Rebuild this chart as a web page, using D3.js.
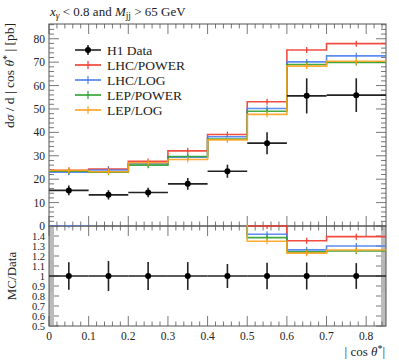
<!DOCTYPE html>
<html><head><meta charset="utf-8">
<script src="https://cdn.jsdelivr.net/npm/d3@7"></script>
<style>
body{margin:0;background:#fff;}
svg text{font-family:"Liberation Serif","DejaVu Serif",serif;fill:#222;}
</style></head>
<body><svg id="c" width="399" height="360"></svg>
<script>
const binEdges = [0, 0.1, 0.2, 0.3, 0.4, 0.5, 0.6, 0.7, 0.85];
const dataVals = [15.2, 13.3, 14.3, 18.0, 23.4, 35.4, 55.6, 55.9];
const dataErr  = [2.1, 2.0, 2.0, 2.5, 2.8, 4.7, 7.5, 7.2];
const lhcPower = [23.8, 24.3, 27.6, 32.1, 39.1, 53.1, 75.2, 77.9];
const lhcLog   = [23.0, 23.9, 26.6, 29.4, 38.1, 50.2, 70.1, 72.7];
const lepPower = [23.4, 23.0, 26.0, 29.7, 37.1, 49.0, 69.0, 69.9];
const lepLog   = [23.7, 23.2, 27.0, 28.4, 36.8, 47.7, 68.3, 70.4];
const seriesNames = ["LHC/POWER", "LHC/LOG", "LEP/POWER", "LEP/LOG"];
const seriesColors = ["#ef3b2c", "#4a7ef2", "#2ca02c", "#ffa21f"];
const xTicks = [0, 0.1, 0.2, 0.3, 0.4, 0.5, 0.6, 0.7, 0.8];
const yTicks = [0, 10, 20, 30, 40, 50, 60, 70, 80];
const rTicks = [0.5, 0.6, 0.7, 0.8, 0.9, 1.0, 1.1, 1.2, 1.3, 1.4];

const series = [lhcPower, lhcLog, lepPower, lepLog];
const svg = d3.select("#c");
const L = 49, R = 386, T = 24, M = 226, B = 326;
const x = d3.scaleLinear().domain([0, 0.85]).range([L, R]);
const y = d3.scaleLinear().domain([0, 86.3]).range([M, T]);
const yr = d3.scaleLinear().domain([0.5, 1.5]).range([B, M]);
const axisCol = "#555";

svg.append("defs").call(d => {
  d.append("clipPath").attr("id", "cm").append("rect").attr("x", L).attr("y", T).attr("width", R - L).attr("height", M - T);
  d.append("clipPath").attr("id", "cr").append("rect").attr("x", L).attr("y", M - 1).attr("width", R - L).attr("height", B - M + 1);
});

function range(a, b, s) { const out = []; for (let v = a; v <= b + 1e-9; v += s) out.push(+v.toFixed(4)); return out; }
const isMajor01 = v => Math.abs(v * 10 - Math.round(v * 10)) < 1e-6;
const xMinor = range(0, 0.85, 0.02).filter(v => !isMajor01(v));
const yMinor = range(0, 86, 2).filter(v => v % 10 !== 0);
const rMinor = range(0.5, 1.5, 0.02).filter(v => !isMajor01(v));
const rFine = range(0.85, 1.15, 0.01).filter(v => !isMajor01(v) && Math.abs(v * 50 - Math.round(v * 50)) > 1e-6);

const g = svg.append("g");
function hTicks(vals, len, yPos, dir) {
  g.selectAll(null).data(vals).enter().append("line")
    .attr("x1", d => x(d)).attr("x2", d => x(d))
    .attr("y1", yPos).attr("y2", yPos + dir * len)
    .attr("stroke", axisCol).attr("stroke-width", 0.8);
}
function vTicks(scale, vals, len, col, w) {
  col = col || axisCol; w = w || 0.8;
  g.selectAll(null).data(vals).enter().append("line")
    .attr("x1", L).attr("x2", L + len).attr("y1", d => scale(d)).attr("y2", d => scale(d))
    .attr("stroke", col).attr("stroke-width", w);
  g.selectAll(null).data(vals).enter().append("line")
    .attr("x1", R).attr("x2", R - len).attr("y1", d => scale(d)).attr("y2", d => scale(d))
    .attr("stroke", col).attr("stroke-width", w);
}
[[T, 1], [M, -1], [M, 1], [B, -1]].forEach(([yy, dir]) => {
  hTicks(xTicks, 10, yy, dir);
  hTicks(xMinor, 4.5, yy, dir);
});
vTicks(y, yTicks, 10);
vTicks(y, yMinor, 5);
vTicks(yr, rTicks, 10);
vTicks(yr, rMinor, 5);
vTicks(yr, rFine, 5, "#aaa", 0.6);

g.append("rect").attr("x", L).attr("y", T).attr("width", R - L).attr("height", M - T).attr("fill", "none").attr("stroke", axisCol).attr("stroke-width", 1);
g.append("rect").attr("x", L).attr("y", M).attr("width", R - L).attr("height", B - M).attr("fill", "none").attr("stroke", axisCol).attr("stroke-width", 1);

g.selectAll(null).data(yTicks).enter().append("text")
  .attr("x", L - 4).attr("y", d => y(d) + 4).attr("text-anchor", "end").attr("font-size", 11.5).text(d => d);
g.selectAll(null).data(rTicks).enter().append("text")
  .attr("x", L - 4).attr("y", d => yr(d) + 3.5).attr("text-anchor", "end").attr("font-size", 10.5)
  .text(d => d === 1 ? "1" : d3.format(".1f")(d));
g.selectAll(null).data(xTicks).enter().append("text")
  .attr("x", d => x(d)).attr("y", 340).attr("text-anchor", "middle").attr("font-size", 11.5)
  .text(d => d === 0 ? "0" : d3.format(".1f")(d));

function stepPath(vals, sc) {
  const pts = [];
  vals.forEach((v, i) => { pts.push([x(binEdges[i]), sc(v)]); pts.push([x(binEdges[i + 1]), sc(v)]); });
  return d3.line()(pts);
}
const mid = i => (binEdges[i] + binEdges[i + 1]) / 2;

const mainG = svg.append("g").attr("clip-path", "url(#cm)");
const ratG = svg.append("g").attr("clip-path", "url(#cr)");

series.forEach((s, k) => {
  mainG.append("path").attr("d", stepPath(s, y)).attr("fill", "none")
    .attr("stroke", seriesColors[k]).attr("stroke-width", 1.6).attr("stroke-opacity", 0.9);
  mainG.selectAll(null).data(s).enter().append("line")
    .attr("x1", (d, i) => x(mid(i))).attr("x2", (d, i) => x(mid(i)))
    .attr("y1", d => y(d) - 3).attr("y2", d => y(d) + 3)
    .attr("stroke", seriesColors[k]).attr("stroke-width", 1.2);
  const ratio = s.map((v, i) => v / dataVals[i]);
  ratG.append("path").attr("d", stepPath(ratio, yr)).attr("fill", "none")
    .attr("stroke", seriesColors[k]).attr("stroke-width", 1.6).attr("stroke-opacity", 0.9);
  ratG.selectAll(null).data(ratio).enter().append("line")
    .attr("x1", (d, i) => x(mid(i))).attr("x2", (d, i) => x(mid(i)))
    .attr("y1", d => yr(d) - 3).attr("y2", d => yr(d) + 3)
    .attr("stroke", seriesColors[k]).attr("stroke-width", 1.2);
});

function drawData(gg, vals, errs, sc) {
  vals.forEach((v, i) => {
    gg.append("line").attr("x1", x(binEdges[i])).attr("x2", x(binEdges[i + 1]))
      .attr("y1", sc(v)).attr("y2", sc(v)).attr("stroke", "#222").attr("stroke-width", 1.6);
    gg.append("line").attr("x1", x(mid(i))).attr("x2", x(mid(i)))
      .attr("y1", sc(v - errs[i])).attr("y2", sc(v + errs[i])).attr("stroke", "#222").attr("stroke-width", 1.6);
    gg.append("circle").attr("cx", x(mid(i))).attr("cy", sc(v)).attr("r", 3).attr("fill", "#000");
  });
}
drawData(mainG, dataVals, dataErr, y);
drawData(ratG, dataVals.map(() => 1), dataErr.map((e, i) => e / dataVals[i]), yr);

const legNames = ["H1 Data"].concat(seriesNames);
const legY = [50, 65, 80, 95, 110];
legNames.forEach((n, k) => {
  const yy = legY[k];
  if (k === 0) {
    g.append("line").attr("x1", 75).attr("x2", 101).attr("y1", yy).attr("y2", yy).attr("stroke", "#222").attr("stroke-width", 1.6);
    g.append("line").attr("x1", 88).attr("x2", 88).attr("y1", yy - 5).attr("y2", yy + 5).attr("stroke", "#222").attr("stroke-width", 1.6);
    g.append("circle").attr("cx", 88).attr("cy", yy).attr("r", 3).attr("fill", "#000");
  } else {
    const c = seriesColors[k - 1];
    g.append("line").attr("x1", 75).attr("x2", 101).attr("y1", yy).attr("y2", yy).attr("stroke", c).attr("stroke-width", 1.6);
    g.append("line").attr("x1", 88).attr("x2", 88).attr("y1", yy - 4).attr("y2", yy + 4).attr("stroke", c).attr("stroke-width", 1.2);
  }
  g.append("text").attr("x", 107).attr("y", yy + 4.5).attr("font-size", 13.5).text(n);
});

const tt = svg.append("text").attr("x", 50).attr("y", 16).attr("font-size", 13);
tt.append("tspan").attr("font-style", "italic").text("x");
tt.append("tspan").attr("font-style", "italic").attr("font-size", 9.5).attr("dy", 3).text("γ");
tt.append("tspan").attr("dy", -3).text(" < 0.8 and ");
tt.append("tspan").attr("font-style", "italic").text("M");
tt.append("tspan").attr("font-size", 9.5).attr("dy", 3).text("jj");
tt.append("tspan").attr("dy", -3).text(" > 65 GeV");

const yl = svg.append("text").attr("transform", "translate(14,23) rotate(-90)").attr("text-anchor", "end").attr("font-size", 13.5);
yl.append("tspan").text("d");
yl.append("tspan").attr("font-style", "italic").text("σ");
yl.append("tspan").text(" / d | cos ");
yl.append("tspan").attr("font-style", "italic").text("θ");
yl.append("tspan").attr("font-size", 10).attr("dy", -4).text("*");
yl.append("tspan").attr("dy", 4).text(" | [pb]");

svg.append("text").attr("transform", "translate(16,276) rotate(-90)").attr("text-anchor", "middle").attr("font-size", 13).text("MC/Data");

const xl = svg.append("text").attr("x", 385).attr("y", 356).attr("text-anchor", "end").attr("font-size", 13);
xl.append("tspan").text("| cos ");
xl.append("tspan").attr("font-style", "italic").text("θ");
xl.append("tspan").attr("font-size", 10).attr("dy", -4).text("*");
xl.append("tspan").attr("dy", 4).text("|");
</script></body></html>
